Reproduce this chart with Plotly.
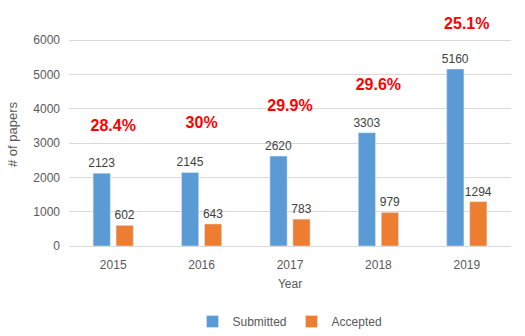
import plotly.graph_objects as go

years = ["2015", "2016", "2017", "2018", "2019"]
submitted = [2123, 2145, 2620, 3303, 5160]
accepted = [602, 643, 783, 979, 1294]
rate_labels = ["28.4%", "30%", "29.9%", "29.6%", "25.1%"]
rate_label_y = [3470, 3550, 4050, 4660, 6430]

y_top = 6500
font_family = "Liberation Sans"

fig = go.Figure()
fig.add_trace(go.Bar(
    x=years, y=submitted, name="Submitted",
    marker=dict(color="#5B9BD5"),
    text=submitted, textposition="outside",
    textfont=dict(size=12, color="#404040"),
))
fig.add_trace(go.Bar(
    x=years, y=accepted, name="Accepted",
    marker=dict(color="#ED7D31"),
    text=accepted, textposition="outside",
    textfont=dict(size=12, color="#404040"),
))
fig.add_trace(go.Scatter(
    x=years, y=rate_label_y, mode="text", showlegend=False,
    text=["<b>" + s + "</b>" for s in rate_labels], textposition="middle center",
    textfont=dict(size=16, color="#FF0000"), cliponaxis=False, hoverinfo="skip",
))

fig.update_layout(
    width=525, height=336,
    margin=dict(l=65, r=14, t=23, b=90),
    paper_bgcolor="white", plot_bgcolor="white",
    font=dict(family=font_family, size=12, color="#595959"),
    barmode="group", bargap=0.48, bargroupgap=0.25,
    uniformtext=dict(minsize=12, mode="show"),
    legend=dict(orientation="h", x=0.5, xanchor="center", yref="container",
                y=0.0, yanchor="bottom",
                font=dict(size=12, color="#595959")),
    xaxis=dict(
        type="category",
        title=dict(text="Year", font=dict(size=12, color="#595959"), standoff=8),
        showgrid=False, showline=True, linecolor="#D9D9D9", ticks="",
        ticklabelstandoff=8,
    ),
    yaxis=dict(
        title=dict(text="# of papers", font=dict(size=13, color="#595959"), standoff=12),
        range=[0, y_top], dtick=1000, showgrid=True, gridcolor="#D9D9D9",
        zeroline=False, ticks="", ticklabelstandoff=8,
    ),
)

fig.write_html("out.html")
